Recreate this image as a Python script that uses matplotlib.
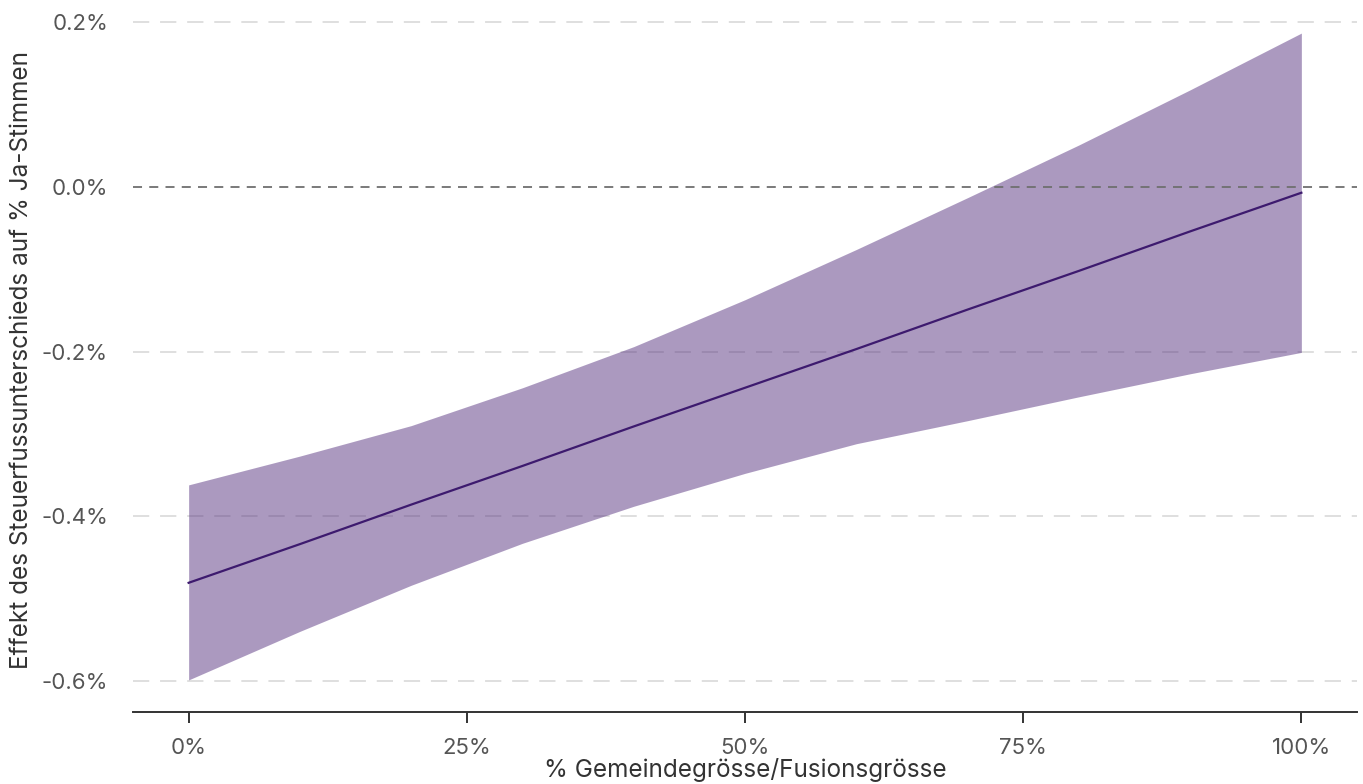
import matplotlib.pyplot as plt
from matplotlib.ticker import FuncFormatter

# Marginal effect of the tax-rate difference across merger size
share = [0.0, 0.1, 0.2, 0.3, 0.4, 0.5, 0.6, 0.7, 0.8, 0.9, 1.0]
effect = [-0.481, -0.434, -0.386, -0.339, -0.291, -0.244, -0.197, -0.149, -0.102, -0.054, -0.007]
ci_low = [-0.599, -0.540, -0.484, -0.433, -0.388, -0.348, -0.312, -0.284, -0.255, -0.227, -0.201]
ci_high = [-0.362, -0.327, -0.290, -0.244, -0.194, -0.137, -0.076, -0.013, 0.051, 0.118, 0.187]

x_ticks = [0, 0.25, 0.5, 0.75, 1.0]
y_ticks = [-0.6, -0.4, -0.2, 0.0, 0.2]

plt.rcParams['font.family'] = ['Inter', 'DejaVu Sans']

fig = plt.figure(figsize=(13.63, 7.84), dpi=100)
ax = fig.add_axes([133 / 1363, 1 - 712 / 784, (1357 - 133) / 1363, (712 - 1) / 784])

# grid lines
for y in y_ticks:
    if y == 0.0:
        ax.axhline(y, color='#6f6f6f', lw=1.3, ls=(0, (5, 4)), zorder=3)
    else:
        ax.axhline(y, color='#dcdcdc', lw=1.3, ls=(0, (9, 6)), zorder=0)

ax.fill_between(share, ci_low, ci_high, color='#593581', alpha=0.5, lw=0, zorder=1)
ax.plot(share, effect, color='#3d1a6e', lw=1.6, zorder=2)

ax.set_xlim(-0.05, 1.05)
ax.set_ylim(-0.638, 0.226)
ax.set_xticks(x_ticks)
ax.set_yticks(y_ticks)
ax.xaxis.set_major_formatter(FuncFormatter(lambda v, p: f"{v * 100:.0f}%"))
ax.yaxis.set_major_formatter(FuncFormatter(lambda v, p: f"{v:.1f}%"))

for side in ['top', 'right', 'left']:
    ax.spines[side].set_visible(False)
ax.spines['bottom'].set_color('#333333')
ax.spines['bottom'].set_linewidth(1.4)

ax.tick_params(axis='x', length=8, width=1.4, color='#333333', labelsize=16,
               labelcolor='#555555', pad=11)
ax.tick_params(axis='y', length=0, labelsize=16, labelcolor='#555555', pad=18)

ax.set_xlabel("% Gemeindegrösse/Fusionsgrösse", fontsize=17.5, color='#333333')
ax.set_ylabel("Effekt des Steuerfussunterschieds auf % Ja-Stimmen", fontsize=17.5,
              color='#333333')
ax.xaxis.set_label_coords(0.5, -(770 - 712) / 711, transform=ax.transAxes)
ax.xaxis.label.set_va('center')
ax.yaxis.set_label_coords(-(133 - 22) / 1224, 0.495, transform=ax.transAxes)
ax.yaxis.label.set_va('center')

fig.savefig("out.png", dpi=100)
